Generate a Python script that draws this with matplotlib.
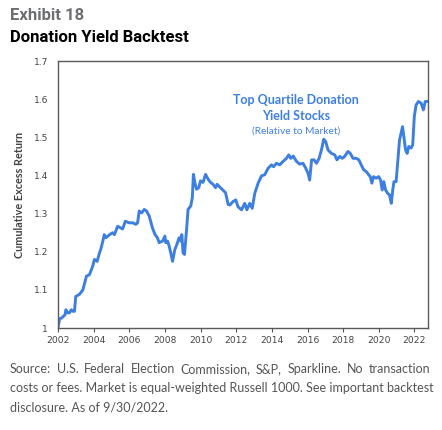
import matplotlib.pyplot as plt

# 数据（十进制年份，累计超额收益）
years = [2002.0, 2002.1, 2002.2, 2002.4, 2002.45, 2002.55, 2002.65, 2002.75, 2002.84, 2002.93,
         2003.0, 2003.2, 2003.4, 2003.5, 2003.6, 2003.77, 2003.95, 2004.05, 2004.2, 2004.33,
         2004.4, 2004.5, 2004.6, 2004.7, 2004.9, 2005.07, 2005.17, 2005.35, 2005.54, 2005.63,
         2005.78, 2006.0, 2006.2, 2006.37, 2006.47, 2006.56, 2006.7, 2006.84, 2006.97, 2007.12,
         2007.3, 2007.45, 2007.58, 2007.68, 2007.87, 2008.0, 2008.05, 2008.15, 2008.24, 2008.33,
         2008.43, 2008.56, 2008.67, 2008.8, 2008.9, 2008.95, 2009.02, 2009.1, 2009.22, 2009.3,
         2009.45, 2009.54, 2009.6, 2009.7, 2009.78, 2009.9, 2010.0, 2010.14, 2010.28, 2010.43,
         2010.56, 2010.7, 2010.84, 2010.93, 2011.03, 2011.2, 2011.4, 2011.55, 2011.65, 2011.83,
         2011.98, 2012.1, 2012.3, 2012.48, 2012.6, 2012.76, 2012.9, 2013.04, 2013.23, 2013.42,
         2013.6, 2013.79, 2013.98, 2014.1, 2014.26, 2014.44, 2014.63, 2014.82, 2014.95, 2015.06,
         2015.2, 2015.38, 2015.56, 2015.75, 2015.9, 2016.03, 2016.12, 2016.23, 2016.37, 2016.5,
         2016.65, 2016.78, 2016.91, 2017.02, 2017.15, 2017.34, 2017.53, 2017.65, 2017.8, 2017.95,
         2018.08, 2018.27, 2018.4, 2018.55, 2018.73, 2018.88, 2019.01, 2019.15, 2019.3, 2019.43,
         2019.52, 2019.61, 2019.7, 2019.85, 2019.99, 2020.1, 2020.19, 2020.28, 2020.38, 2020.5,
         2020.6, 2020.7, 2020.78, 2020.85, 2020.97, 2021.07, 2021.16, 2021.25, 2021.33, 2021.4,
         2021.5, 2021.59, 2021.68, 2021.81, 2021.9, 2021.99, 2022.09, 2022.22, 2022.37, 2022.5,
         2022.6, 2022.72]
values = [1.00, 1.025, 1.026, 1.035, 1.048, 1.04, 1.04, 1.048, 1.044, 1.044,
          1.083, 1.088, 1.10, 1.118, 1.136, 1.14, 1.162, 1.18, 1.175, 1.197,
          1.206, 1.224, 1.245, 1.237, 1.245, 1.25, 1.245, 1.267, 1.262, 1.26,
          1.28, 1.276, 1.276, 1.272, 1.276, 1.307, 1.302, 1.311, 1.307, 1.294,
          1.263, 1.245, 1.237, 1.224, 1.228, 1.241, 1.224, 1.228, 1.215, 1.197,
          1.175, 1.206, 1.219, 1.237, 1.228, 1.245, 1.197, 1.193, 1.26, 1.311,
          1.32, 1.342, 1.403, 1.377, 1.364, 1.368, 1.386, 1.382, 1.403, 1.39,
          1.382, 1.377, 1.368, 1.377, 1.372, 1.364, 1.355, 1.324, 1.323, 1.332,
          1.336, 1.318, 1.31, 1.327, 1.31, 1.327, 1.314, 1.353, 1.38, 1.399,
          1.402, 1.419, 1.428, 1.423, 1.432, 1.428, 1.437, 1.445, 1.454, 1.445,
          1.451, 1.437, 1.43, 1.432, 1.419, 1.406, 1.388, 1.441, 1.441, 1.432,
          1.445, 1.467, 1.495, 1.489, 1.467, 1.458, 1.454, 1.441, 1.45, 1.445,
          1.45, 1.463, 1.458, 1.445, 1.445, 1.441, 1.428, 1.415, 1.41, 1.402,
          1.397, 1.38, 1.397, 1.393, 1.397, 1.388, 1.362, 1.384, 1.362, 1.353,
          1.349, 1.327, 1.362, 1.384, 1.384, 1.441, 1.493, 1.511, 1.528, 1.502,
          1.467, 1.458, 1.476, 1.472, 1.48, 1.555, 1.585, 1.594, 1.59, 1.572,
          1.594, 1.594]
x_ticks = [2002, 2004, 2006, 2008, 2010, 2012, 2014, 2016, 2018, 2020, 2022]
y_ticks = [1.0, 1.1, 1.2, 1.3, 1.4, 1.5, 1.6, 1.7]
y_labels = ['1', '1.1', '1.2', '1.3', '1.4', '1.5', '1.6', '1.7']

plt.rcParams['font.family'] = ['Lato', 'DejaVu Sans']
line_color = '#3d7fe0'
gray = '#555555'

fig = plt.figure(figsize=(4.42, 4.30), dpi=100)
ax = fig.add_axes([0.131, 0.237, 0.837, 0.621])
ax.plot(years, values, color=line_color, linewidth=2.1, solid_joinstyle='round')
ax.set_xlim(2002, 2022.75)
ax.set_ylim(1.0, 1.7)
ax.set_xticks(x_ticks)
ax.set_xticklabels([str(y) for y in x_ticks], family=['DejaVu Sans'])
ax.set_yticks(y_ticks)
ax.set_yticklabels(y_labels, family=['DejaVu Sans'])
ax.tick_params(axis='x', length=3, width=0.8, color=gray, labelsize=6.6, labelcolor='#444444', pad=3)
ax.tick_params(axis='y', length=0, labelsize=6.6, labelcolor='#444444', pad=7)
for s in ax.spines.values():
    s.set_color('#5a5a5a')
    s.set_linewidth(1.0)
ax.set_ylabel('Cumulative Excess Return', fontsize=7.8, fontweight='bold',
              color='#444444', labelpad=6)

# 注释
ax.text(2015.37, 1.598, 'Top Quartile Donation', color=line_color, fontsize=9.0,
        fontweight='bold', ha='center', va='center')
ax.text(2015.37, 1.556, 'Yield Stocks', color=line_color, fontsize=9.0,
        fontweight='bold', ha='center', va='center')
ax.text(2015.37, 1.517, '(Relative to Market)', color=line_color, fontsize=7.3,
        ha='center', va='center')

# 标题
fig.text(10 / 442, 1 - 15 / 430, 'Exhibit 18', fontsize=12, fontweight='bold',
         color='#6d6e71', va='center', family=['Roboto', 'DejaVu Sans'])
fig.text(10 / 442, 1 - 38 / 430, 'Donation Yield Backtest', fontsize=12, fontweight='bold',
         color='black', va='center', family=['Roboto', 'DejaVu Sans'])

# 脚注（第一行两端对齐）
notes = ['Source: U.S. Federal Election Commission, S&P, Sparkline. No transaction',
         'costs or fees. Market is equal-weighted Russell 1000. See important backtest',
         'disclosure. As of 9/30/2022.']
note_size = 9.0
x0, x1 = 10, 430
renderer = fig.canvas.get_renderer()
for i, line in enumerate(notes):
    y = 1 - (369 + 19 * i) / 430
    if i > 0:
        fig.text(x0 / 442, y, line, fontsize=note_size, color=gray, va='center')
        continue
    words = line.split(' ')
    texts = [fig.text(0, y, w, fontsize=note_size, color=gray, va='center') for w in words]
    widths = [t.get_window_extent(renderer).width for t in texts]
    gap = (x1 - x0 - sum(widths)) / (len(words) - 1)
    pos = x0
    for t, w in zip(texts, widths):
        t.set_x(pos / 442)
        pos += w + gap

plt.savefig('out.png', dpi=100)
